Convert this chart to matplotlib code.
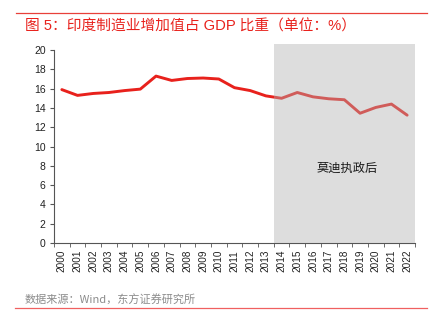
import numpy as np
import matplotlib.pyplot as plt
from matplotlib.lines import Line2D
from matplotlib.patches import Rectangle

plt.rcParams['font.family'] = ['Liberation Sans', 'Noto Sans CJK SC', 'DejaVu Sans']

years = [str(y) for y in range(2000, 2023)]
share = [15.9, 15.3, 15.5, 15.6, 15.8, 15.95, 17.3, 16.85, 17.05, 17.1, 17.0,
         16.1, 15.8, 15.25, 15.0, 15.6, 15.15, 14.95, 14.85, 13.45, 14.05, 14.4, 13.25]
modi_start = "2014"
title = "图 5：印度制造业增加值占 GDP 比重（单位：%）"
source = "数据来源：Wind，东方证券研究所"
shade_label = "莫迪执政后"

fig = plt.figure(figsize=(4.41, 3.25), dpi=100)
ax = fig.add_axes([0.1224, 0.2523, 0.8186, 0.5937])

x = np.arange(len(years))
ax.plot(x, share, color="#e8211c", lw=2.1, solid_capstyle="round", zorder=2)

# shaded Modi period, drawn over the line with transparency
i0 = years.index(modi_start) - 0.5
shade = Rectangle((i0, 0), len(years) - 0.5 - i0, 20.6, facecolor="#b0b0b0",
                  alpha=0.42, edgecolor="none", zorder=3, clip_on=False)
ax.add_patch(shade)
ax.text(18.2, 7.7, shade_label, fontsize=8.8, ha="center", va="center",
        family=['Noto Sans CJK SC'], color="#1a1a1a", zorder=4)

ax.set_xlim(-0.5, len(years) - 0.5)
ax.set_ylim(0, 20)
ax.set_yticks(range(0, 21, 2))
ax.tick_params(axis="y", labelsize=7.5, length=3, color="#555555", labelcolor="#222222", pad=3)

ax.set_xticks(x)
ax.set_xticklabels(years, rotation=90, fontsize=7.2, color="#222222")
ax.tick_params(axis="x", which="major", length=0, pad=5)
ax.set_xticks(np.arange(-0.5, len(years)), minor=True)
ax.tick_params(axis="x", which="minor", length=3, color="#555555")

for s in ["top", "right"]:
    ax.spines[s].set_visible(False)
for s in ["left", "bottom"]:
    ax.spines[s].set_color("#555555")
    ax.spines[s].set_linewidth(0.8)

fig.add_artist(Line2D([16 / 441, 427 / 441], [1 - 13 / 325, 1 - 13 / 325],
                      color="#e8403a", lw=0.9))
fig.text(25 / 441, 1 - 27 / 325, title, fontsize=10.6, color="#e8211c",
         va="center", ha="left", family=['Liberation Sans', 'Noto Sans CJK SC'])

fig.text(25 / 441, 1 - 300 / 325, source, fontsize=8.0, color="#8c8c8c",
         va="center", ha="left", family=['Noto Sans CJK SC'])
fig.add_artist(Line2D([15 / 441, 427 / 441], [1 - 308 / 325, 1 - 308 / 325],
                      color="#f06060", lw=0.9))

fig.savefig("out.png", dpi=100)
